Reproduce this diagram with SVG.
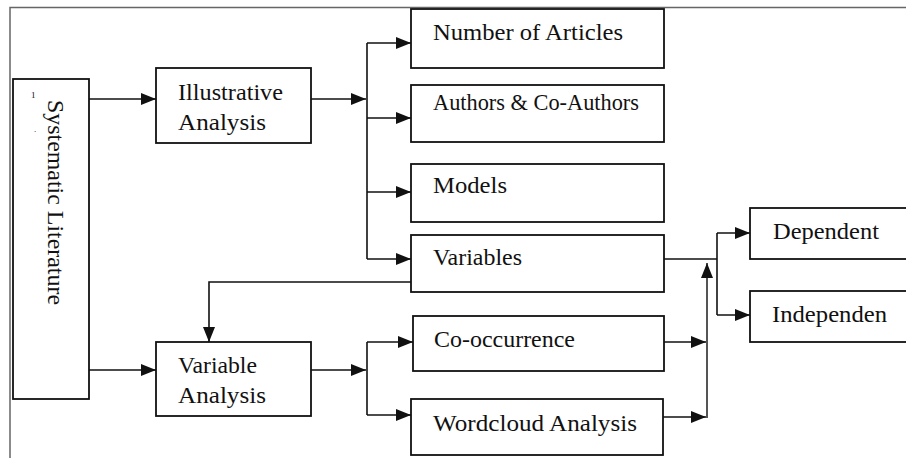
<svg xmlns="http://www.w3.org/2000/svg" width="906" height="458" viewBox="0 0 906 458">
<style>
.box{fill:#fff;stroke:#111;stroke-width:1.8}
.t{font-family:"Liberation Serif","Times New Roman",serif;font-size:23px;fill:#111}
.c{fill:none;stroke:#111;stroke-width:1.6}
.frame{fill:none;stroke:#666;stroke-width:1.5}
</style>
<defs>
<marker id="ah" markerUnits="userSpaceOnUse" markerWidth="15" markerHeight="12" refX="15" refY="6" orient="auto">
<path d="M0,0 L15,6 L0,12 z" fill="#111"/>
</marker>
</defs>
<rect width="906" height="458" fill="#fff"/>
<path class="frame" d="M10,458 V7.5 H906"/>

<g id="systematic">
<rect class="box" x="13" y="79" width="76" height="320"/>
<text class="t" transform="translate(48,100) rotate(90)" textLength="205" lengthAdjust="spacingAndGlyphs">Systematic  Literature</text>
<text class="t" x="31" y="98" style="font-size:9px">1</text>
<text class="t" x="34" y="132" style="font-size:9px">.</text>
</g>
<g id="illustrative">
<rect class="box" x="156" y="68" width="155" height="75"/>
<text class="t" x="178" y="100" textLength="105" lengthAdjust="spacingAndGlyphs">Illustrative</text>
<text class="t" x="178" y="130" textLength="88" lengthAdjust="spacingAndGlyphs">Analysis</text>
</g>
<g id="variable-analysis">
<rect class="box" x="156" y="342" width="155" height="74"/>
<text class="t" x="178" y="373" textLength="79" lengthAdjust="spacingAndGlyphs">Variable</text>
<text class="t" x="178" y="403" textLength="88" lengthAdjust="spacingAndGlyphs">Analysis</text>
</g>
<g id="number-of-articles">
<rect class="box" x="411" y="9" width="253" height="59"/>
<text class="t" x="433" y="40" textLength="190" lengthAdjust="spacingAndGlyphs">Number of Articles</text>
</g>
<g id="authors">
<rect class="box" x="411" y="85" width="253" height="57"/>
<text class="t" x="433" y="110" textLength="206" lengthAdjust="spacingAndGlyphs">Authors &amp; Co-Authors</text>
</g>
<g id="models">
<rect class="box" x="411" y="164" width="253" height="58"/>
<text class="t" x="433" y="193" textLength="74" lengthAdjust="spacingAndGlyphs">Models</text>
</g>
<g id="variables">
<rect class="box" x="411" y="235" width="253" height="57"/>
<text class="t" x="433" y="265" textLength="89" lengthAdjust="spacingAndGlyphs">Variables</text>
</g>
<g id="co-occurrence">
<rect class="box" x="413" y="316" width="251" height="55"/>
<text class="t" x="434" y="347" textLength="141" lengthAdjust="spacingAndGlyphs">Co-occurrence</text>
</g>
<g id="wordcloud">
<rect class="box" x="411" y="399" width="252" height="56"/>
<text class="t" x="433" y="431" textLength="204" lengthAdjust="spacingAndGlyphs">Wordcloud Analysis</text>
</g>
<g id="dependent">
<rect class="box" x="750" y="208" width="170" height="51"/>
<text class="t" x="773" y="239" textLength="106" lengthAdjust="spacingAndGlyphs">Dependent</text>
</g>
<g id="independen">
<rect class="box" x="750" y="291" width="170" height="51"/>
<text class="t" x="772" y="322" textLength="115" lengthAdjust="spacingAndGlyphs">Independen</text>
</g>

<g id="connectors">
<path class="c" d="M89,99 H156" marker-end="url(#ah)"/>
<path class="c" d="M311,99 H366" marker-end="url(#ah)"/>
<path class="c" d="M367,43 V259"/>
<path class="c" d="M367,43 H411" marker-end="url(#ah)"/>
<path class="c" d="M367,118 H411" marker-end="url(#ah)"/>
<path class="c" d="M367,192 H411" marker-end="url(#ah)"/>
<path class="c" d="M367,259 H411" marker-end="url(#ah)"/>
<path class="c" d="M411,282 H209 V342" marker-end="url(#ah)"/>
<path class="c" d="M89,370 H156" marker-end="url(#ah)"/>
<path class="c" d="M311,370 H366" marker-end="url(#ah)"/>
<path class="c" d="M367,342 V415"/>
<path class="c" d="M367,342 H413" marker-end="url(#ah)"/>
<path class="c" d="M367,415 H411" marker-end="url(#ah)"/>
<path class="c" d="M664,259 H717"/>
<path class="c" d="M717,233 V315"/>
<path class="c" d="M717,233 H750" marker-end="url(#ah)"/>
<path class="c" d="M717,315 H750" marker-end="url(#ah)"/>
<path class="c" d="M664,342 H706" marker-end="url(#ah)"/>
<path class="c" d="M663,417 H706" marker-end="url(#ah)"/>
<path class="c" d="M707,418 V263" style="stroke:#555;stroke-width:2" marker-end="url(#ah)"/>
</g>
</svg>
